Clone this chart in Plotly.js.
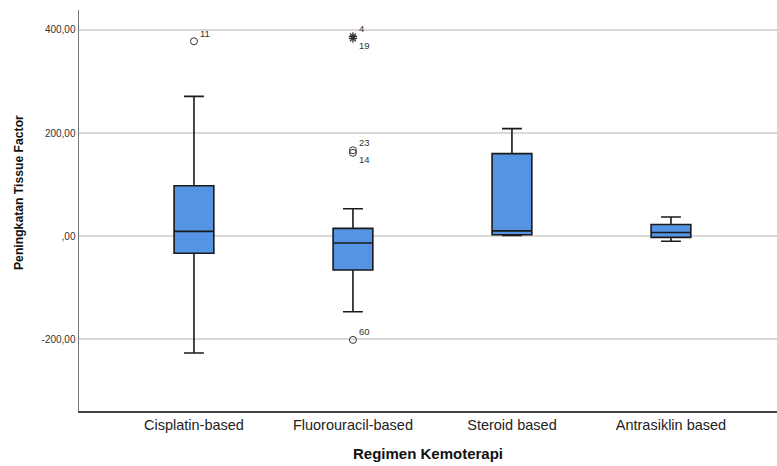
<!DOCTYPE html>
<html>
<head>
<meta charset="utf-8">
<script src="https://cdn.plot.ly/plotly-3.0.1.min.js"></script>
<style>html,body{margin:0;padding:0;background:#fff;}#chart{width:777px;height:466px;}</style>
</head>
<body>
<div id="chart"></div>
<script>
// Categories and box statistics
const categories = ["Cisplatin-based", "Fluorouracil-based", "Steroid based", "Antrasiklin based"];
const lowerWhisker = [-227, -147, 1, -10];
const q1 = [-33.5, -66, 2.5, -2.5];
const median = [9, -13.5, 10, 7];
const q3 = [97.5, 15, 160, 22.5];
const upperWhisker = [271, 53, 208.5, 37];

// Outliers (o) and extremes (*)
const circleCat = [0, 1, 1, 1];
const circleVal = [378, 166.5, 161.5, -201.5];
const circleId = ["11", "23", "14", "60"];
const circleAbove = [true, true, false, true];

const extremeCat = [1, 1];
const extremeVal = [387.5, 383.5];
const extremeId = ["4", "19"];
const extremeAbove = [true, false];

const yTickVals = [-200, 0, 200, 400];
const yTickText = ["-200,00", ",00", "200,00", "400,00"];

const xIdx = categories.map((c, i) => i);
const font = "Liberation Sans, Arial, sans-serif";

const traces = [
  {
    type: "box",
    x: xIdx,
    q1: q1, median: median, q3: q3,
    lowerfence: lowerWhisker, upperfence: upperWhisker,
    width: 0.25,
    whiskerwidth: 0.5,
    fillcolor: "#5594e3",
    line: { color: "#1a1a1a", width: 1.6 },
    boxpoints: false,
    hoverinfo: "skip",
    showlegend: false
  },
  {
    type: "scatter",
    mode: "markers",
    x: circleCat, y: circleVal,
    marker: { symbol: "circle-open", size: 7, color: "#333", line: { width: 1, color: "#333" } },
    cliponaxis: false,
    showlegend: false, hoverinfo: "skip"
  },
  {
    type: "scatter",
    mode: "markers",
    x: extremeCat, y: extremeVal,
    marker: { symbol: "asterisk-open", size: 7, color: "#333", line: { width: 1.2, color: "#333" } },
    cliponaxis: false,
    showlegend: false, hoverinfo: "skip"
  }
];

function labelAnn(x, y, t, above) {
  return {
    x: x, y: y, xref: "x", yref: "y", text: t, showarrow: false,
    xanchor: "left", yanchor: "middle",
    xshift: 4, yshift: above ? 8 : -7,
    font: { family: font, size: 9.5, color: "#333" }
  };
}

const annotations = [];
circleId.forEach((t, i) => annotations.push(labelAnn(circleCat[i], circleVal[i], t, circleAbove[i])));
extremeId.forEach((t, i) => annotations.push(labelAnn(extremeCat[i], extremeVal[i], t, extremeAbove[i])));
annotations.push({
  text: "<b>Peningkatan Tissue Factor</b>",
  xref: "paper", yref: "paper",
  x: -0.086, y: 0.546,
  xanchor: "center", yanchor: "middle",
  textangle: -90, showarrow: false,
  font: { family: font, size: 12.2, color: "#111" }
});

const layout = {
  width: 777, height: 466,
  margin: { l: 79, r: 0, t: 10, b: 55 },
  paper_bgcolor: "#fff", plot_bgcolor: "#fff",
  font: { family: font, color: "#222" },
  xaxis: {
    range: [-0.723, 3.667],
    tickvals: xIdx, ticktext: categories,
    tickfont: { family: font, size: 14.5, color: "#222" },
    showgrid: false, zeroline: false,
    showline: true, linecolor: "#444", linewidth: 1.5,
    ticks: "", ticklen: 0,
    title: { text: "<b>Regimen Kemoterapi</b>", font: { family: font, size: 15, color: "#111" }, standoff: 16 }
  },
  yaxis: {
    range: [-339.5, 438.7],
    tickvals: yTickVals, ticktext: yTickText,
    tickfont: { family: font, size: 10, color: "#333" },
    showgrid: true, gridcolor: "#d9d9d9", gridwidth: 1.5,
    zeroline: false,
    showline: true, linecolor: "#777", linewidth: 1.5,
    ticks: "", ticklen: 0,
    title: { text: "" }
  },
  annotations: annotations
};

Plotly.newPlot("chart", traces, layout, { staticPlot: true, displayModeBar: false });
</script>
</body>
</html>
